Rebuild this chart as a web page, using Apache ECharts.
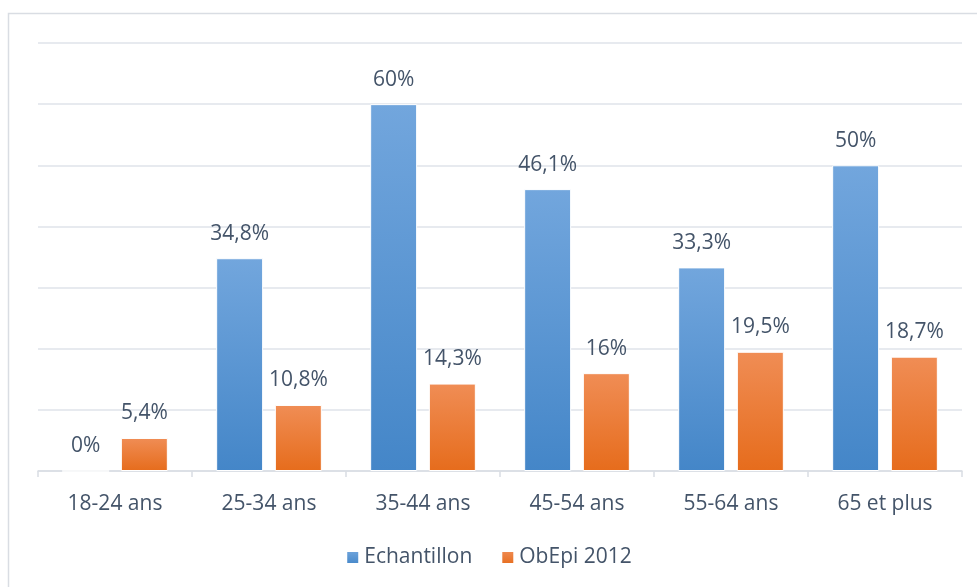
<!DOCTYPE html>
<html>
<head>
<meta charset="utf-8">
<script src="https://cdn.jsdelivr.net/npm/echarts@6/dist/echarts.min.js"></script>
<style>
  html, body { margin: 0; padding: 0; background: #fff; }
  #chart { width: 977px; height: 587px; }
</style>
</head>
<body>
<div id="chart"></div>
<script>
const categories = ['18-24 ans', '25-34 ans', '35-44 ans', '45-54 ans', '55-64 ans', '65 et plus']
const echantillon = [0, 34.8, 60, 46.1, 33.3, 50]
const obepi = [5.4, 10.8, 14.3, 16, 19.5, 18.7]

const textColor = '#445469'
const font = 'Open Sans'
const fontSize = 21

// libellés au format français
const fmt = p => String(p.value).replace('.', ',') + '%'

const grad = (top, bottom) => new echarts.graphic.LinearGradient(0, 0, 0, 1, [
  { offset: 0, color: top },
  { offset: 1, color: bottom }
])

const myChart = echarts.init(document.getElementById('chart'), null, { renderer: 'canvas' })
myChart.setOption({
  animation: false,
  textStyle: { fontFamily: font },
  graphic: [{
    type: 'rect',
    shape: { x: 8.5, y: 13.5, width: 990, height: 600 },
    style: { fill: 'none', stroke: '#d9dde3', lineWidth: 1.5 },
    silent: true
  }],
  grid: { left: 38, right: 15, top: 43, bottom: 116 },
  legend: {
    bottom: 14,
    left: 'center',
    itemWidth: 13,
    itemHeight: 13,
    itemGap: 28,
    icon: 'rect',
    textStyle: { color: textColor, fontSize: fontSize, fontFamily: font },
    data: ['Echantillon', 'ObEpi 2012']
  },
  xAxis: {
    type: 'category',
    data: categories,
    axisLine: { lineStyle: { color: '#d9dde3', width: 1.5 } },
    axisTick: { show: true, length: 6, lineStyle: { color: '#d9dde3', width: 1.5 } },
    axisLabel: { color: textColor, fontSize: fontSize, margin: 23, fontFamily: font }
  },
  yAxis: {
    type: 'value',
    min: 0,
    max: 70,
    interval: 10,
    axisLabel: { show: false },
    axisLine: { show: false },
    axisTick: { show: false },
    splitLine: { lineStyle: { color: '#dfe3ea', width: 1.5 } }
  },
  series: [
    {
      name: 'Echantillon',
      type: 'bar',
      data: echantillon,
      barWidth: '30.5%',
      barGap: '25%',
      itemStyle: { color: grad('#72a6dd', '#4486c8'), borderColor: '#fff', borderWidth: 1 },
      label: { show: true, position: 'top', distance: 14, color: textColor, fontSize: fontSize, fontFamily: font, formatter: fmt }
    },
    {
      name: 'ObEpi 2012',
      type: 'bar',
      data: obepi,
      barWidth: '30.5%',
      itemStyle: { color: grad('#f08d55', '#e66c1c'), borderColor: '#fff', borderWidth: 1 },
      label: { show: true, position: 'top', distance: 14, color: textColor, fontSize: fontSize, fontFamily: font, formatter: fmt }
    }
  ]
})
</script>
</body>
</html>
